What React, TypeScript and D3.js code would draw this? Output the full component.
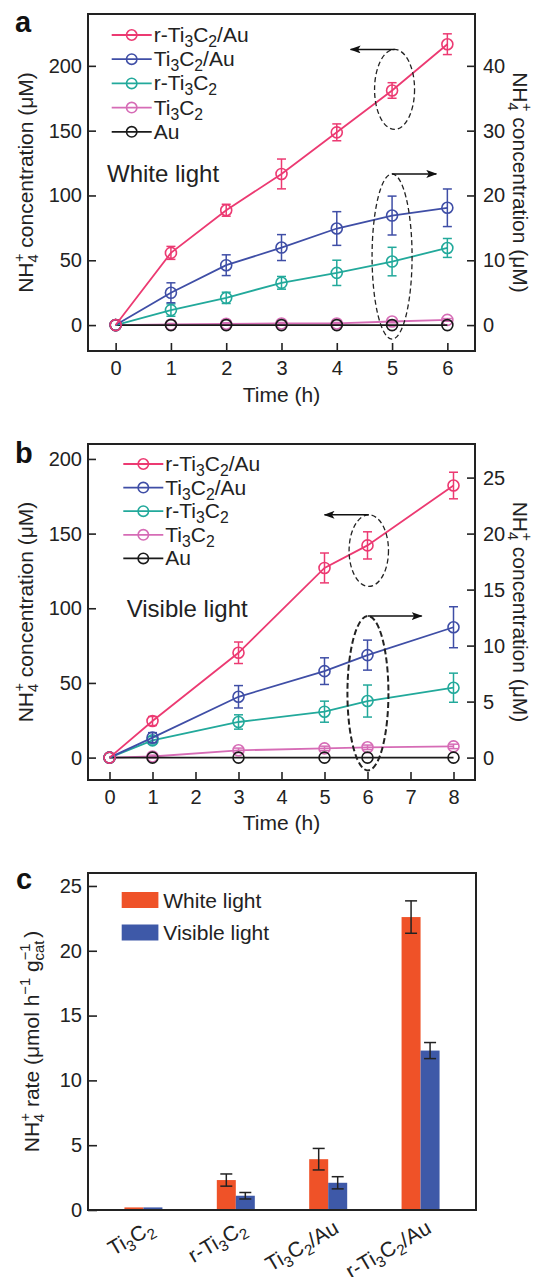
import { useEffect, useRef } from 'react'
import * as d3 from 'd3'

const W = 537
const H = 1277
const FONT = "'Liberation Sans', Arial, Helvetica, sans-serif"

const names = ['r-Ti3C2/Au', 'Ti3C2/Au', 'r-Ti3C2', 'Ti3C2', 'Au']
const colors = ['#ec3a72', '#3f4ea6', '#22a99b', '#d66cb6', '#1a1a1a']

// (a) white light; r-Ti3C2/Au on left axis, the rest on right axis
const timesA = [0, 1, 2, 3, 4, 5, 6]
const aRTiAu = [0, 55.7, 88.6, 116.6, 148.7, 181, 216.7]
const aRTiAuErr = [0, 5, 4.6, 11.5, 6.5, 6, 8]
const aTiAu = [0, 4.98, 9.24, 11.96, 14.9, 16.9, 18.1]
const aTiAuErr = [0, 1.54, 1.6, 2.0, 2.6, 3.0, 2.9]
const aRTi = [0, 2.31, 4.2, 6.52, 8.06, 9.8, 11.9]
const aRTiErr = [0, 0.95, 0.87, 0.98, 1.95, 2.2, 1.46]
const aTi = [0, 0.1, 0.2, 0.25, 0.25, 0.55, 0.8]
const aTiErr = [0, 0.15, 0.15, 0.15, 0.15, 0.2, 0.2]
const aAu = [0, 0, 0, 0, 0, 0, 0]

// (b) visible light
const timesB = [0, 1, 3, 5, 6, 8]
const bRTiAu = [0, 24.5, 70.2, 127, 142.1, 182.2]
const bRTiAuErr = [0, 3, 7.2, 10, 9.1, 8.9]
const bTiAu = [0, 1.78, 5.43, 7.72, 9.15, 11.64]
const bTiAuErr = [0, 0.45, 1.0, 1.19, 1.34, 1.83]
const bRTi = [0, 1.54, 3.18, 4.1, 5.05, 6.24]
const bRTiErr = [0, 0.33, 0.64, 0.94, 1.43, 1.3]
const bTi = [0, 0.1, 0.65, 0.82, 0.92, 1.0]
const bTiErr = [0, 0.12, 0.2, 0.2, 0.2, 0.2]
const bAu = [0, 0, 0, 0, 0, 0]

// (c) rates
const categories = ['Ti3C2', 'r-Ti3C2', 'Ti3C2/Au', 'r-Ti3C2/Au']
const whiteRate = [0.2, 2.31, 3.92, 22.6]
const whiteErr = [0, 0.47, 0.83, 1.25]
const visRate = [0.2, 1.1, 2.1, 12.3]
const visErr = [0, 0.25, 0.47, 0.62]

function nameParts(s) {
  return s.split(/(\d)/).filter(Boolean).map(p => (/\d/.test(p) ? [p, 'sub'] : [p, 'n']))
}

function addParts(text, parts, size, subScale = 0.7) {
  let cur = 0
  for (const [s, k, dx] of parts) {
    const target = k === 'sub' ? size * 0.24 : k === 'sup' ? -size * 0.42 : 0
    const ts = text.append('tspan').attr('dy', target - cur).text(s)
    if (k !== 'n') ts.attr('font-size', size * subScale)
    if (dx) ts.attr('dx', dx * size)
    cur = target
  }
}

const concParts = [['NH', 'n'], ['4', 'sub'], ['+', 'sup', -0.37], [' concentration (μM)', 'n']]
const rateParts = [['NH', 'n'], ['4', 'sub'], ['+', 'sup', -0.37], [' rate (μmol h', 'n'], ['−1', 'sup'],
  [' g', 'n'], ['cat', 'sub'], ['−1', 'sup', -0.93], [' )', 'n']]

function styleAxis(g, size) {
  g.select('.domain').remove()
  g.selectAll('line').attr('stroke', '#222').attr('stroke-width', 1.6)
  g.selectAll('text').attr('font-family', FONT).attr('font-size', size).attr('fill', '#222')
}

function linePanel(svg, p) {
  const left = 88, right = 475
  const x = d3.scaleLinear().domain(p.xDom).range([left, right])
  const y = d3.scaleLinear().domain(p.yDom).range([p.bottom, p.top])
  const yR = d3.scaleLinear().domain([p.yDom[0] / p.ratio, p.yDom[1] / p.ratio]).range([p.bottom, p.top])
  const g = svg.append('g')

  g.append('g').attr('transform', `translate(${left},0)`)
    .call(d3.axisLeft(y).tickValues(p.yTicks).tickFormat(d3.format('d')).tickSize(-8).tickPadding(6))
    .call(a => styleAxis(a, 20))
  g.append('g').attr('transform', `translate(${right},0)`)
    .call(d3.axisRight(yR).tickValues(p.rTicks).tickFormat(d3.format('d')).tickSize(-8).tickPadding(8))
    .call(a => styleAxis(a, 20))
  g.append('g').attr('transform', `translate(0,${p.bottom})`)
    .call(d3.axisBottom(x).tickValues(p.xTicks).tickFormat(d3.format('d')).tickSize(-8).tickPadding(10))
    .call(a => styleAxis(a, 20))

  g.append('rect').attr('x', left).attr('y', p.top).attr('width', right - left)
    .attr('height', p.bottom - p.top).attr('fill', 'none').attr('stroke', '#222').attr('stroke-width', 2)

  // series, drawn back to front
  const order = [3, 4, 2, 1, 0]
  order.forEach(i => {
    const s = p.series[i]
    const sy = s.axis === 'L' ? y : yR
    const pts = p.times.map((t, j) => ({ t, v: s.v[j], e: s.e[j] }))
    const sg = g.append('g').attr('stroke', colors[i]).attr('fill', 'none')
    sg.append('path').datum(pts).attr('stroke-width', 1.8)
      .attr('d', d3.line().x(d => x(d.t)).y(d => sy(d.v)))
    pts.filter(d => d.e > 0).forEach(d => {
      const cx = x(d.t)
      sg.append('line').attr('x1', cx).attr('x2', cx).attr('y1', sy(d.v - d.e)).attr('y2', sy(d.v + d.e)).attr('stroke-width', 1.5)
      ;[d.v - d.e, d.v + d.e].forEach(v => {
        sg.append('line').attr('x1', cx - 4.5).attr('x2', cx + 4.5).attr('y1', sy(v)).attr('y2', sy(v)).attr('stroke-width', 1.5)
      })
    })
    sg.selectAll('circle.m').data(pts).join('circle').attr('class', 'm')
      .attr('cx', d => x(d.t)).attr('cy', d => sy(d.v)).attr('r', 5.5).attr('stroke-width', 1.6)
  })

  // legend
  names.forEach((n, i) => {
    const ly = p.legend.y + i * p.legend.step
    const lg = g.append('g')
    lg.append('line').attr('x1', p.legend.x).attr('x2', p.legend.x + 40).attr('y1', ly).attr('y2', ly)
      .attr('stroke', colors[i]).attr('stroke-width', 1.8)
    lg.append('circle').attr('cx', p.legend.x + 20).attr('cy', ly).attr('r', 5.2)
      .attr('fill', 'none').attr('stroke', colors[i]).attr('stroke-width', 1.6)
    const t = lg.append('text').attr('x', p.legend.x + 42).attr('y', ly + 7)
      .attr('font-family', FONT).attr('font-size', 21).attr('fill', '#222')
    addParts(t, nameParts(n), 21, 0.75)
  })

  g.append('text').attr('x', p.note.x).attr('y', p.note.y).attr('font-family', FONT)
    .attr('font-size', 24).attr('fill', '#222').text(p.note.text)

  // dashed ellipses with arrows
  p.ellipses.forEach(el => {
    const cx = x(el.t), cy = y(el.v)
    g.append('ellipse').attr('cx', cx).attr('cy', cy).attr('rx', el.rx).attr('ry', el.ry)
      .attr('fill', 'none').attr('stroke', '#222').attr('stroke-width', el.bold ? 2 : 1.3)
      .attr('stroke-dasharray', el.bold ? '6,3' : '5,3')
    g.append('line').attr('x1', cx).attr('x2', x(el.tip)).attr('y1', cy - el.ry).attr('y2', cy - el.ry)
      .attr('stroke', '#111').attr('stroke-width', 1.5).attr('marker-end', 'url(#arrow)')
  })

  const mid = (p.top + p.bottom) / 2
  const tl = g.append('text').attr('transform', `translate(33,${mid}) rotate(-90)`).attr('text-anchor', 'middle')
    .attr('font-family', FONT).attr('font-size', 21).attr('fill', '#222')
  addParts(tl, concParts, 21)
  const tr = g.append('text').attr('transform', `translate(513,${mid}) rotate(90)`).attr('text-anchor', 'middle')
    .attr('font-family', FONT).attr('font-size', 21).attr('fill', '#222')
  addParts(tr, concParts, 21)

  g.append('text').attr('x', (left + right) / 2).attr('y', p.timeY).attr('text-anchor', 'middle')
    .attr('font-family', FONT).attr('font-size', 21).attr('fill', '#222').text('Time (h)')
  g.append('text').attr('x', 15).attr('y', p.labelY).attr('font-family', FONT).attr('font-weight', 'bold')
    .attr('font-size', 29).attr('fill', '#111').text(p.label)
}

function barPanel(svg) {
  const left = 88, right = 476, top = 873, bottom = 1210
  const x = d3.scaleLinear().domain([-0.6, 3.6]).range([left, right])
  const y = d3.scaleLinear().domain([0, 26]).range([bottom, top])
  const bw = 19
  const g = svg.append('g')

  g.append('g').attr('transform', `translate(${left},0)`)
    .call(d3.axisLeft(y).tickValues([0, 5, 10, 15, 20, 25]).tickSize(-9).tickPadding(6))
    .call(a => styleAxis(a, 20))

  const sets = [
    { v: whiteRate, e: whiteErr, color: '#ef5228', off: -1 },
    { v: visRate, e: visErr, color: '#3e59a8', off: 0 },
  ]
  sets.forEach(s => {
    categories.forEach((c, i) => {
      const x0 = x(i) + s.off * bw
      g.append('rect').attr('x', x0).attr('y', y(s.v[i])).attr('width', bw)
        .attr('height', y(0) - y(s.v[i])).attr('fill', s.color)
      if (s.e[i] > 0) {
        const cx = x0 + bw / 2
        const eg = g.append('g').attr('stroke', '#222').attr('stroke-width', 1.5)
        eg.append('line').attr('x1', cx).attr('x2', cx).attr('y1', y(s.v[i] - s.e[i])).attr('y2', y(s.v[i] + s.e[i]))
        ;[s.v[i] - s.e[i], s.v[i] + s.e[i]].forEach(v => {
          eg.append('line').attr('x1', cx - 6).attr('x2', cx + 6).attr('y1', y(v)).attr('y2', y(v))
        })
      }
    })
  })

  g.append('rect').attr('x', left).attr('y', top).attr('width', right - left)
    .attr('height', bottom - top).attr('fill', 'none').attr('stroke', '#222').attr('stroke-width', 2)

  categories.forEach((c, i) => {
    const t = g.append('text').attr('transform', `translate(${x(i) + 12},1232) rotate(-30)`)
      .attr('text-anchor', 'end').attr('font-family', FONT).attr('font-size', 21).attr('fill', '#222')
    addParts(t, nameParts(c), 21, 0.72)
  })

  const legend = [['White light', '#ef5228'], ['Visible light', '#3e59a8']]
  legend.forEach(([label, color], i) => {
    const ly = 892 + i * 32.5
    g.append('rect').attr('x', 121.7).attr('y', ly).attr('width', 36.7).attr('height', 16).attr('fill', color)
    g.append('text').attr('x', 163.3).attr('y', ly + 15.5).attr('font-family', FONT).attr('font-size', 21)
      .attr('fill', '#222').text(label)
  })

  const yl = g.append('text').attr('transform', `translate(39,${(top + bottom) / 2}) rotate(-90)`)
    .attr('text-anchor', 'middle').attr('font-family', FONT).attr('font-size', 21).attr('fill', '#222')
  addParts(yl, rateParts, 21)

  g.append('text').attr('x', 16).attr('y', 889).attr('font-family', FONT).attr('font-weight', 'bold')
    .attr('font-size', 29).attr('fill', '#111').text('c')
}

function App() {
  const ref = useRef(null)

  useEffect(() => {
    document.body.style.margin = '0'
    const svg = d3.select(ref.current)
    svg.selectAll('*').remove()
    svg.append('defs').append('marker').attr('id', 'arrow').attr('markerUnits', 'userSpaceOnUse')
      .attr('markerWidth', 11).attr('markerHeight', 8).attr('refX', 10).attr('refY', 4).attr('orient', 'auto')
      .append('path').attr('d', 'M0,0 L11,4 L0,8 L2.5,4 z').attr('fill', '#111')

    linePanel(svg, {
      top: 14, bottom: 351, xDom: [-0.5, 6.5], yDom: [-20, 240], ratio: 5,
      times: timesA, xTicks: timesA, yTicks: [0, 50, 100, 150, 200], rTicks: [0, 10, 20, 30, 40],
      series: [
        { v: aRTiAu, e: aRTiAuErr, axis: 'L' },
        { v: aTiAu, e: aTiAuErr, axis: 'R' },
        { v: aRTi, e: aRTiErr, axis: 'R' },
        { v: aTi, e: aTiErr, axis: 'R' },
        { v: aAu, e: aAu, axis: 'R' },
      ],
      legend: { x: 111.7, y: 35, step: 24.2 },
      note: { text: 'White light', x: 107, y: 182 },
      ellipses: [
        { t: 5.045, v: 181.8, rx: 20, ry: 40, tip: 4.25 },
        { t: 5.0, v: 52.9, rx: 20, ry: 82.6, tip: 5.8 },
      ],
      timeY: 401.7, label: 'a', labelY: 32,
    })

    linePanel(svg, {
      top: 444, bottom: 780, xDom: [-0.5, 8.5], yDom: [-15, 210], ratio: 7.5,
      times: timesB, xTicks: [0, 1, 2, 3, 4, 5, 6, 7, 8], yTicks: [0, 50, 100, 150, 200], rTicks: [0, 5, 10, 15, 20, 25],
      series: [
        { v: bRTiAu, e: bRTiAuErr, axis: 'L' },
        { v: bTiAu, e: bTiAuErr, axis: 'R' },
        { v: bRTi, e: bRTiErr, axis: 'R' },
        { v: bTi, e: bTiErr, axis: 'R' },
        { v: bAu, e: bAu, axis: 'R' },
      ],
      legend: { x: 123.3, y: 464, step: 23.6 },
      note: { text: 'Visible light', x: 126.7, y: 617 },
      ellipses: [
        { t: 6.03, v: 138.6, rx: 19.7, ry: 35.8, tip: 5.0 },
        { t: 6.01, v: 43.1, rx: 20.5, ry: 77.2, tip: 7.26, bold: true },
      ],
      timeY: 830, label: 'b', labelY: 463,
    })

    barPanel(svg)
  }, [])

  return <svg ref={ref} width={W} height={H} style={{ display: 'block', background: '#fff' }} />
}

export default App
